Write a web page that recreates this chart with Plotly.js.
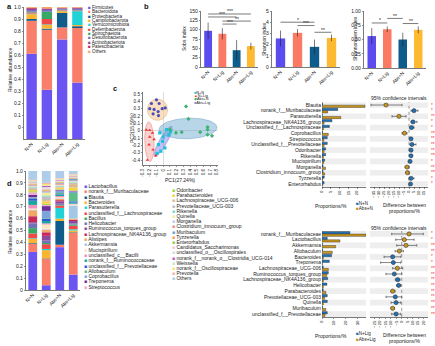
<!DOCTYPE html>
<html><head><meta charset="utf-8">
<script src="https://cdn.plot.ly/plotly-3.0.1.min.js"></script>
<style>html,body{margin:0;padding:0;background:#fff;}#chart{width:435px;height:346px;}</style>
</head><body><div id="chart"></div>
<script>
// ---------------- DATA ----------------
const groups = ['N+N','N+Lig','Abs+N','Abs+Lig'];

// panel a: phylum relative abundance
const phyla = ['Firmicutes','Bacteroidota','Proteobacteria','Campilobacterota','Verrucomicrobiota','Deferribacterota','Spirochaetota','Desulfobacterota','Actinobacteriota','Patescibacteria','Others'];
const phylumNN     = [0.61,0.275,0.015,0.04,0.005,0.01,0.005,0.015,0.01,0.008,0.007];
const phylumNLig   = [0.31,0.50,0.01,0.03,0.005,0.045,0.06,0.015,0.008,0.005,0.012];
const phylumAbsN   = [0.73,0.10,0.12,0.015,0.005,0.005,0.002,0.008,0.005,0.003,0.007];
const phylumAbsLig = [0.37,0.455,0.015,0.01,0.115,0.005,0.003,0.01,0.007,0.005,0.005];

// panel b: alpha diversity
const sobsMean = [97, 89, 45, 56];
const sobsErr  = [22, 15, 27, 9];
const shannonMean = [2.55, 3.05, 1.8, 2.6];
const shannonErr  = [0.7, 0.33, 0.65, 0.3];
const evenMean = [0.56, 0.68, 0.50, 0.67];
const evenErr  = [0.14, 0.05, 0.12, 0.06];
// significance brackets: [fromGroup, toGroup, level, label]
const sobsSig = [[0,3,142,'***'],[0,2,134,'***'],[1,3,123,'**'],[1,2,115,'***']];
const shannonSig = [[0,2,4.0,'*'],[1,2,3.7,'***'],[2,3,3.1,'**']];
const evenSig = [[0,1,0.79,'*'],[1,2,0.87,'**'],[2,3,0.78,'**']];

// panel c: PCoA
const pcNNx = [-0.05,0.0,0.05,0.085,-0.01,-0.07,0.025,-0.035,-0.09,0.11];
const pcNNy = [-0.03,-0.085,0.015,-0.055,-0.145,-0.19,-0.235,-0.28,-0.31,-0.015];
const pcNLigx = [-0.25,-0.2,-0.16,-0.2,-0.135,-0.21,-0.15,-0.11,-0.235];
const pcNLigy = [0.01,0.005,-0.03,-0.085,-0.12,-0.19,-0.26,-0.34,-0.40];
const pcAbsNx = [0.1,0.275,0.375,0.34,0.55,0.66,0.66,0.725,0.66,0.19];
const pcAbsNy = [0.015,-0.02,0.16,0.33,-0.02,0.015,-0.055,-0.07,0.05,-0.03];
const pcAbsLigx = [-0.1,-0.175,-0.06,-0.2,-0.135,-0.075,-0.015,-0.15,-0.07,0.03];
const pcAbsLigy = [0.42,0.37,0.37,0.30,0.29,0.26,0.30,0.23,0.205,0.31];
// confidence ellipses (center, radii, angle in degrees)
const ellCx = [-0.085, -0.205, 0.0, 0.37];
const ellCy = [0.286, -0.15, -0.145, 0.03];
const ellRx = [0.15, 0.27, 0.24, 0.43];
const ellRy = [0.145, 0.07, 0.055, 0.14];
const ellAng = [0, 92, 58, 2];

// panel d: genus relative abundance
const genera = ['Lactobacillus','norank_f__Muribaculaceae','Blautia','Bacteroides','Parasutterella','unclassified_f__Lachnospiraceae','Bacillus','Helicobacter','Ruminococcus_torques_group','Lachnospiraceae_NK4A136_group','Alistipes','Akkermansia','Mucispirillum','unclassified_c__Bacilli','norank_f__Ruminococcaceae','unclassified_f__Prevotellaceae','Allobaculum','Coprobacillus','Treponema','Streptococcus',
 'Odoribacter','Parabacteroides','Lachnospiraceae_UCG-006','Prevotellaceae_UCG-003','Rikenella','Quinella','Morganella','Clostridium_innocuum_group','Muribaculum','Tyzzerella','Enterorhabdus','Candidatus_Saccharimonas','unclassified_o__Oscillospirales','norank_f__norank_o__Clostridia_UCG-014','Weissella','norank_f__Oscillospiraceae','Prevotella','Others'];
const genusNN = [0.32,0.07,0.005,0.035,0.005,0.04,0.045,0.04,0.01,0.05,0.05,0.005,0.01,0.03,0.035,0.02,0.005,0.005,0.02,0.02,
 0.01,0.01,0.01,0.01,0.005,0.005,0.005,0.005,0.005,0.005,0.005,0.005,0.005,0.005,0.005,0.005,0.005,0.075];
const genusNLig = [0.04,0.22,0.005,0.07,0.01,0.04,0.01,0.02,0.04,0.03,0.02,0.005,0.04,0.01,0.02,0.02,0.005,0.06,0.04,0.01,
 0.01,0.02,0.01,0.03,0.01,0.02,0.01,0.005,0.005,0.005,0.005,0.01,0.01,0.01,0.005,0.01,0.01,0.10];
const genusAbsN = [0.36,0.02,0.20,0.02,0.09,0.02,0.005,0.01,0.02,0.01,0.01,0.005,0.01,0.01,0.01,0.005,0.01,0.02,0.005,0.005,
 0.005,0.01,0.005,0.005,0.005,0.005,0.005,0.01,0.005,0.005,0.005,0.005,0.005,0.005,0.005,0.005,0.005,0.06];
const genusAbsLig = [0.13,0.35,0.005,0.015,0.01,0.03,0.01,0.01,0.02,0.01,0.01,0.11,0.01,0.005,0.01,0.01,0.07,0.01,0.005,0.005,
 0.005,0.02,0.03,0.01,0.005,0.005,0.005,0.005,0.015,0.005,0.005,0.005,0.005,0.005,0.005,0.005,0.005,0.025];

// panel e: extended error bar N+N vs Abs+N
const eLabels = ['Blautia','norank_f__Muribaculaceae','Parasutterella','Lachnospiraceae_NK4A136_group','Unclassified_f__Lachnospiraceae','Coprobacillus','Streptococcus','Unclassified_f__Prevotellaceae','Odoribacter','Rikenella','Mucispirillum','Morganella','Clostridium_innocuum_group','Tyzzerella','Enterorhabdus'];
const eNN   = [0.3, 9.0, 0.2, 5.7, 4.2, 0.3, 3.0, 3.0, 2.1, 2.1, 1.5, 0.6, 0.6, 1.3, 1.2];
const eAbsN = [24.5, 3.2, 10.7, 1.2, 0.8, 3.6, 1.0, 1.2, 1.2, 0.8, 0.9, 2.0, 1.5, 0.4, 0.4];
const eDiff = [-23, 5, -10, 4, 2.5, -4.5, 2, 3, 2, 2, 1, -2, -1.5, 2, 1.5];
const eLo   = [-38, 2, -17, 2, 1, -7, 1, 1, 1, 1, 0, -4, -3, 0, 0.5];
const eHi   = [-7, 9, -3, 8, 5, -2, 3, 7, 3, 3, 2, 0, 0, 5, 2.5];
const eSig  = ['*','*','**','*','*','***','**','**','**','***','*','**','***','*','*'];

// panel f: extended error bar N+Lig vs Abs+Lig
const fLabels = ['norank_f__Muribaculaceae','Lactobacillus','Akkermansia','Allobaculum','Bacteroides','Treponema','Lachnospiraceae_UCG-006','Ruminococcus_torques_group','Lachnospiraceae_NK4A136_group','Helicobacter','Parabacteroides','Prevotellaceae_UCG-003','Quinella','Muribaculum','unclassified_f__Prevotellaceae'];
const fNLig   = [23.3, 4.4, 0.3, 0.5, 8.0, 6.1, 1.0, 5.3, 4.7, 4.1, 1.0, 4.4, 4.4, 0.5, 4.4];
const fAbsLig = [36.7, 15.0, 11.4, 8.6, 1.1, 0.3, 5.3, 4.0, 1.1, 1.1, 3.2, 2.2, 1.1, 3.2, 2.5];
const fDiff = [6.7, 2.4, 3.9, -2.2, -8.3, -7.7, -4.0, -6.8, -3.7, -2.8, -8.3, -5.9, -5.2, -8.3, -5.2];
const fLo   = [-9.2, -5.5, -4.6, -6.1, -16.2, -19.3, -8.3, -14.4, -5.9, -4.6, -9.8, -14.4, -9.8, -9.8, -9.2];
const fHi   = [19.8, 11.3, 13.8, 1.5, -0.9, -0.9, 0.9, 0, -1.6, -0.9, -6.1, 0, -0.9, -6.7, -0.9];
const fSig  = ['*','*','***','**','*','*','***','**','**','**','**','**','***','**','***'];

// ---------------- STYLE ----------------
const W = 435, H = 346;
const FONT = 'Arial, "Liberation Sans", Helvetica, sans-serif';
const fx = p => p / W, fy = p => 1 - p / H;
const xd = (a, b) => [fx(a), fx(b)];
const yd = (top, bottom) => [fy(bottom), fy(top)];
const groupColors = ['#5B4CF0','#FA7A64','#0E5C8C','#FDBA30'];
const phylumColors = ['#6A55F2','#FA7F6A','#0F5C8A','#FDB52F','#21D3D6','#EE4A4A','#38A867','#7272B8','#8B4A9E','#C8285A','#F2A766'];
const genusColors = ['#6A55F2','#FA7F6A','#0F5C8A','#FDB52F','#21D3D6','#EE4A4A','#38A867','#7272B8','#8B4A9E','#C8285A','#F2A766','#A3C8E6','#FCE6C4','#F390BE','#16A79D','#2F56D8','#5DBE88','#7EA3D8','#6C2E96','#F4A6D7',
 '#A3D143','#F6D23C','#DDB98E','#BEBEBE','#7FD8C2','#F3EE8F','#C9C6EA','#F08A88','#6E9FCB','#FFA24F','#9AD13C','#F9CADD','#DADADA','#BE5FC0','#CBE7C3','#FBE36B','#F7B3A6','#AFCDE8'];
const pcColors = ['#1CC3D6','#E8332E','#3CB371','#4B4FB5'];
const pcSymbols = ['square','triangle-up','diamond','circle'];
const ellFill = ['rgba(246,196,140,0.55)','rgba(242,130,120,0.35)','rgba(125,115,235,0.45)','rgba(100,165,205,0.45)'];
const ellLine = ['rgba(220,160,100,0.9)','rgba(220,100,90,0.8)','rgba(100,90,210,0.8)','rgba(80,140,185,0.8)'];
const BLUE = '#2271B5', GOLD = '#C8961E';
const A_FLOOR = -0.1;

const AX = {showline:true, linecolor:'#222', linewidth:0.6, ticks:'outside', ticklen:1.5, tickwidth:0.5,
  tickcolor:'#222', showgrid:false, zeroline:false, tickfont:{size:5, color:'#222', family:FONT}, fixedrange:true};
const ax = o => Object.assign({}, AX, o);

const traces = [];
const shapes = [];
const annotations = [];
function ann(text, px, py, o) {
  annotations.push(Object.assign({text, xref:'paper', yref:'paper', x:fx(px), y:fy(py), xanchor:'left',
    yanchor:'middle', showarrow:false, font:{size:5, color:'#222', family:FONT}}, o || {}));
}

// stacked bars
function stacked(names, cols, colors, xa, ya, floor, w) {
  const cum = groups.map(() => 0);
  names.forEach((n, i) => {
    const v = cols.map(c => c[i]);
    const first = (i === 0 && floor != null);
    const base = cum.map(b => first ? floor : b);
    const y = v.map(val => first ? val - floor : val);
    v.forEach((val, j) => cum[j] += val);
    traces.push({type:'bar', x:groups, y:y, base:base, xaxis:xa, yaxis:ya, width:w, name:n,
      marker:{color:colors[i], line:{width:0}}, showlegend:false, hoverinfo:'skip'});
  });
}
stacked(phyla, [phylumNN, phylumNLig, phylumAbsN, phylumAbsLig], phylumColors, 'x', 'y', A_FLOOR, 0.68);
stacked(genera, [genusNN, genusNLig, genusAbsN, genusAbsLig], genusColors, 'x6', 'y6', null, 0.65);

// alpha diversity bars
function alpha(mean, err, sig, xa, ya) {
  traces.push({type:'bar', x:groups, y:mean, xaxis:xa, yaxis:ya, width:0.55,
    marker:{color:groupColors, line:{width:0}},
    error_y:{type:'data', array:err, color:'#222', thickness:0.6, width:0},
    showlegend:false, hoverinfo:'skip'});
  sig.forEach(s => {
    shapes.push({type:'line', xref:xa, yref:ya, x0:groups[s[0]], x1:groups[s[1]], y0:s[2], y1:s[2],
      line:{color:'#222', width:0.6}});
    annotations.push({text:s[3], xref:xa, yref:ya, x:(s[0] + s[1]) / 2, y:s[2], yanchor:'bottom', xanchor:'center',
      showarrow:false, font:{size:5, color:'#222', family:FONT}, yshift:-2.5});
  });
}
alpha(sobsMean, sobsErr, sobsSig, 'x2', 'y2');
alpha(shannonMean, shannonErr, shannonSig, 'x3', 'y3');
alpha(evenMean, evenErr, evenSig, 'x4', 'y4');

// PCoA ellipses + points
for (let e = 0; e < ellCx.length; e++) {
  const xs = [], ys = [], a = ellAng[e] * Math.PI / 180;
  for (let k = 0; k <= 72; k++) {
    const t = 2 * Math.PI * k / 72, ex = ellRx[e] * Math.cos(t), ey = ellRy[e] * Math.sin(t);
    xs.push(ellCx[e] + ex * Math.cos(a) - ey * Math.sin(a));
    ys.push(ellCy[e] + ex * Math.sin(a) + ey * Math.cos(a));
  }
  traces.push({type:'scatter', mode:'lines', x:xs, y:ys, xaxis:'x5', yaxis:'y5', fill:'toself',
    fillcolor:ellFill[e], line:{color:ellLine[e], width:0.5}, showlegend:false, hoverinfo:'skip'});
}
[[pcNNx, pcNNy], [pcNLigx, pcNLigy], [pcAbsNx, pcAbsNy], [pcAbsLigx, pcAbsLigy]].forEach((p, i) => {
  traces.push({type:'scatter', mode:'markers', x:p[0], y:p[1], xaxis:'x5', yaxis:'y5',
    marker:{color:pcColors[i], symbol:pcSymbols[i], size:3.2, line:{width:0}}, showlegend:false, hoverinfo:'skip'});
});

// extended error bar panels
function stamp(labels, a, b, diff, lo, hi, sig, xb, yb, xc, yc) {
  traces.push({type:'bar', orientation:'h', x:a, y:labels, xaxis:xb, yaxis:yb, width:0.4, offset:-0.42,
    marker:{color:BLUE, line:{color:'#222', width:0.4}}, showlegend:false, hoverinfo:'skip'});
  traces.push({type:'bar', orientation:'h', x:b, y:labels, xaxis:xb, yaxis:yb, width:0.4, offset:0.02,
    marker:{color:GOLD, line:{color:'#222', width:0.4}}, showlegend:false, hoverinfo:'skip'});
  traces.push({type:'scatter', mode:'markers', x:diff, y:labels, xaxis:xc, yaxis:yc,
    error_x:{type:'data', symmetric:false, array:hi.map((h, i) => h - diff[i]), arrayminus:lo.map((l, i) => diff[i] - l),
      color:'#333', thickness:0.6, width:1.2},
    marker:{size:4.2, color:a.map((v, i) => v >= b[i] ? BLUE : GOLD), line:{color:'#222', width:0.5}},
    showlegend:false, hoverinfo:'skip'});
  labels.forEach((l, i) => {
    if (i % 2 === 0) {
      shapes.push({type:'rect', xref:xb + ' domain', yref:yb, x0:0, x1:1, y0:i - 0.5, y1:i + 0.5,
        fillcolor:'#EEEEEE', line:{width:0}, layer:'below'});
      shapes.push({type:'rect', xref:xc + ' domain', yref:yc, x0:0, x1:1, y0:i - 0.5, y1:i + 0.5,
        fillcolor:'#EEEEEE', line:{width:0}, layer:'below'});
    }
    annotations.push({text:sig[i], xref:'paper', yref:yc, x:fx(429), y:l, xanchor:'left', yanchor:'middle',
      showarrow:false, font:{size:4.5, color:'#F03030', family:FONT}});
  });
  shapes.push({type:'line', xref:xc, yref:yc + ' domain', x0:0, x1:0, y0:0, y1:1,
    line:{color:'#555', width:0.6, dash:'dot'}});
}
stamp(eLabels, eNN, eAbsN, eDiff, eLo, eHi, eSig, 'x7', 'y7', 'x8', 'y8');
stamp(fLabels, fNLig, fAbsLig, fDiff, fLo, fHi, fSig, 'x9', 'y9', 'x10', 'y10');

// ---------------- ANNOTATIONS ----------------
ann('<b>a</b>', 5, 7, {font:{size:7.5, color:'#111', family:FONT}});
ann('<b>b</b>', 142, 7, {font:{size:7.5, color:'#111', family:FONT}});
ann('<b>c</b>', 111, 88, {font:{size:7.5, color:'#111', family:FONT}});
ann('<b>d</b>', 5, 183, {font:{size:7.5, color:'#111', family:FONT}});

ann('Relative abundance', 10, 70, {textangle:-90, xanchor:'center'});
ann('Relative abundance', 10, 232, {textangle:-90, xanchor:'center'});
ann('Sobs index', 184, 39, {textangle:-90, xanchor:'center'});
ann('Shannon index', 264, 39, {textangle:-90, xanchor:'center'});
ann('Shannoneven index', 355, 39, {textangle:-90, xanchor:'center'});
ann('PC2(15.59%)', 132, 128, {textangle:-90, xanchor:'center'});
ann('PC1(27.24%)', 180, 180, {xanchor:'center'});

phyla.forEach((n, i) => ann('<span style="color:' + phylumColors[i] + '">■</span> ' + n, 85.5, 7.3 + i * 4.37, {font:{size:4.6, color:'#222', family:FONT}}));
genera.forEach((n, i) => {
  const col2 = i >= 20;
  const k = col2 ? i - 20 : i;
  ann('<span style="color:' + genusColors[i] + '">■</span> ' + n, col2 ? 170 : 81.5, (col2 ? 190 : 186) + k * (col2 ? 5.2 : 5.3), {font:{size:5, color:'#222', family:FONT}});
});
const pcGlyph = ['■','▲','◆','●'];
groups.forEach((g, i) => ann('<span style="color:' + pcColors[i] + '">' + pcGlyph[i] + '</span>' + g, 192, 93 + i * 3.2, {font:{size:3.8, color:'#222', family:FONT}}));

ann('95% confidence intervals', 399, 98, {xanchor:'center', font:{size:5, color:'#222', family:FONT}});
ann('95% confidence intervals', 399, 228, {xanchor:'center', font:{size:5, color:'#222', family:FONT}});
ann('Proportions/%', 331, 206, {xanchor:'center'});
ann('Proportions/%', 331, 336, {xanchor:'center'});
ann('<span style="color:' + BLUE + '">■</span>N+N', 354, 203, {font:{size:4.6, color:'#222', family:FONT}});
ann('<span style="color:' + GOLD + '">■</span>Abs+N', 354, 209, {font:{size:4.6, color:'#222', family:FONT}});
ann('<span style="color:' + BLUE + '">■</span>N+Lig', 354, 333, {font:{size:4.6, color:'#222', family:FONT}});
ann('<span style="color:' + GOLD + '">■</span>Abs+Lig', 354, 339, {font:{size:4.6, color:'#222', family:FONT}});
ann('Difference between', 404, 205, {xanchor:'center'});
ann('proportions/%', 404, 211, {xanchor:'center'});
ann('Difference between', 404, 335, {xanchor:'center'});
ann('proportions/%', 404, 341, {xanchor:'center'});

// ---------------- AXES ----------------
const tenths = [0,0.1,0.2,0.3,0.4,0.5,0.6,0.7,0.8,0.9,1.0];
const tenthsText = tenths.map(v => v === 0 ? '0' : v.toFixed(1));
const pcx = [], pcy = [];
for (let k = -3; k <= 8; k++) pcx.push(k / 10);
for (let k = -4; k <= 5; k++) pcy.push(k / 10);
const fmt = v => v === 0 ? '0' : String(v);
const catBase = {type:'category', tickangle:-45, ticks:'', tickfont:{size:4.8, color:'#222', family:FONT}};
const stampY = labels => ({type:'category', categoryorder:'array', categoryarray:labels, range:[labels.length - 0.5, -0.5],
  tickmode:'array', tickvals:labels, ticktext:labels,
  showline:false, ticks:'', tickfont:{size:5, color:'#222', family:FONT}});
const range5 = (a, b, s) => { const r = []; for (let v = a; v <= b; v += s) r.push(v); return r; };

const layout = {
  width:W, height:H, autosize:false, margin:{l:0, r:0, t:0, b:0}, paper_bgcolor:'#fff', plot_bgcolor:'rgba(0,0,0,0)',
  font:{family:FONT, size:5, color:'#222'}, barmode:'overlay', showlegend:false,
  xaxis:ax(Object.assign({domain:xd(24,85), anchor:'y'}, catBase)),
  yaxis:ax({domain:yd(7,139), anchor:'x', range:[A_FLOOR, 1.0], tickvals:tenths, ticktext:tenthsText}),
  xaxis2:ax(Object.assign({domain:xd(201,258), anchor:'y2'}, catBase)),
  yaxis2:ax({domain:yd(11,67), anchor:'x2', range:[0,150], tickvals:[0,25,50,75,100,125,150]}),
  xaxis3:ax(Object.assign({domain:xd(272,340), anchor:'y3'}, catBase)),
  yaxis3:ax({domain:yd(11,67), anchor:'x3', range:[0,5], tickvals:[0,1,2,3,4,5]}),
  xaxis4:ax(Object.assign({domain:xd(364,426), anchor:'y4'}, catBase)),
  yaxis4:ax({domain:yd(11,68), anchor:'x4', range:[0,1], tickvals:[0,0.25,0.5,0.75,1], tickformat:'.2f'}),
  xaxis5:ax({domain:xd(143,218), anchor:'y5', range:[-0.3,0.815], tickvals:pcx, ticktext:pcx.map(v => fmt(+v.toFixed(1))), tickangle:-90,
    zeroline:true, zerolinecolor:'#bbb', zerolinewidth:0.5, tickfont:{size:4.6, color:'#222', family:FONT}}),
  yaxis5:ax({domain:yd(92,165), anchor:'x5', range:[-0.468,0.527], tickvals:pcy, ticktext:pcy.map(v => fmt(+v.toFixed(1))),
    zeroline:true, zerolinecolor:'#bbb', zerolinewidth:0.5, tickfont:{size:4.6, color:'#222', family:FONT}}),
  xaxis6:ax(Object.assign({domain:xd(26,80), anchor:'y6'}, catBase)),
  yaxis6:ax({domain:yd(171,290), anchor:'x6', range:[0,1.0], tickvals:tenths, ticktext:tenthsText}),
  xaxis7:ax({domain:xd(322,366), anchor:'y7', range:[0,25.1], tickvals:[0,5,10,15,20], tickangle:-90, tickfont:{size:4.2, color:'#222', family:FONT}}),
  yaxis7:ax(Object.assign({domain:yd(102.2,186.8), anchor:'x7'}, stampY(eLabels))),
  xaxis8:ax({domain:xd(370,428), anchor:'y8', range:[-39,19], tickvals:range5(-35,15,5), tickangle:-90, tickfont:{size:4.2, color:'#222', family:FONT}}),
  yaxis8:ax(Object.assign({domain:yd(102.2,186.8), anchor:'x8'}, stampY(eLabels), {showticklabels:false})),
  xaxis9:ax({domain:xd(322,366), anchor:'y9', range:[0,36.7], tickvals:[0,10,20,30], tickangle:-90, tickfont:{size:4.2, color:'#222', family:FONT}}),
  yaxis9:ax(Object.assign({domain:yd(231.1,316.9), anchor:'x9'}, stampY(fLabels))),
  xaxis10:ax({domain:xd(370,428), anchor:'y10', range:[-29.1,24.1], tickvals:range5(-25,20,5), tickangle:-90, tickfont:{size:4.2, color:'#222', family:FONT}}),
  yaxis10:ax(Object.assign({domain:yd(231.1,316.9), anchor:'x10'}, stampY(fLabels), {showticklabels:false})),
  shapes:shapes, annotations:annotations
};
Plotly.newPlot('chart', traces, layout, {staticPlot:true, displayModeBar:false});
</script></body></html>
